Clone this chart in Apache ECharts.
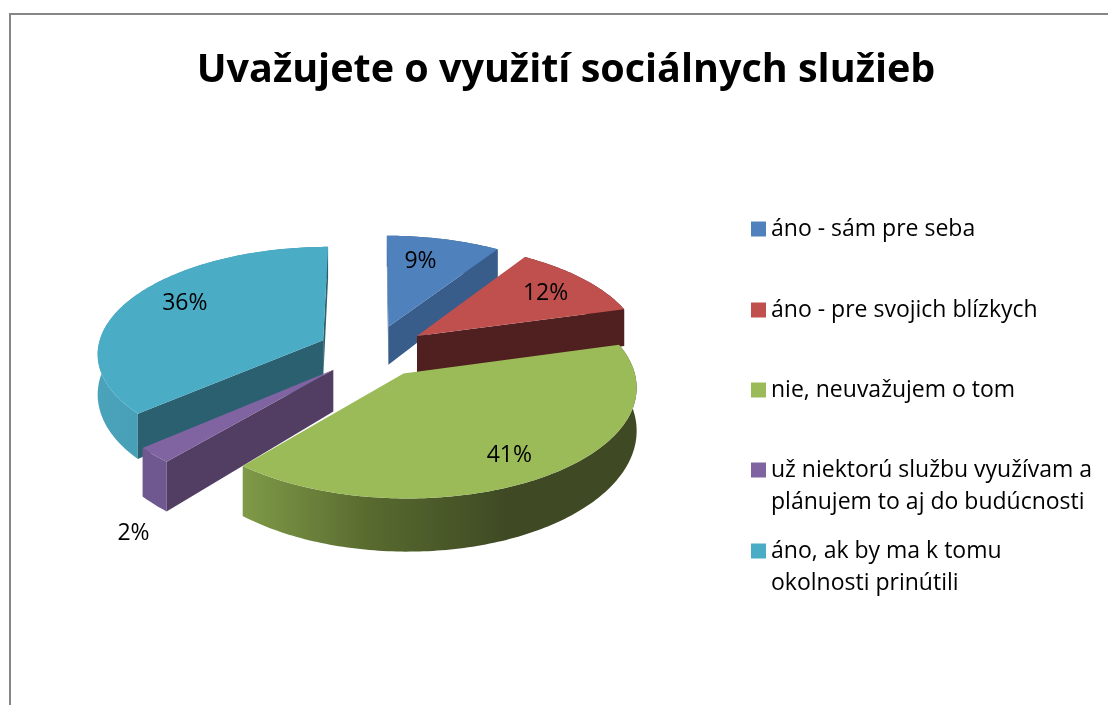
<!DOCTYPE html>
<html>
<head>
<meta charset="utf-8">
<script src="https://cdn.jsdelivr.net/npm/echarts@6/dist/echarts.min.js"></script>
<style>
  html, body { margin: 0; padding: 0; background: #fff; }
  #chart { width: 1108px; height: 705px; }
</style>
</head>
<body>
<div id="chart"></div>
<script>
  var titleText = 'Uvažujete o využití sociálnych služieb';
  var categories = [
    'áno - sám pre seba',
    'áno - pre svojich blízkych',
    'nie, neuvažujem o tom',
    'už niektorú službu využívam a\nplánujem to aj do budúcnosti',
    'áno, ak by ma k tomu\nokolnosti prinútili'
  ];
  // the labels show them rounded
  var values = [9.2, 11.5, 40.5, 2.4, 36.4];

  var topColors = ['#4f81bd', '#c0504d', '#9bbb59', '#8064a2', '#4bacc6'];
  var cutColors = ['#385d8a', '#4f201f', '#3f4a24', '#523e63', '#2b6070'];
  var wallStops = [
    ['#385d8a', '#385d8a'],
    ['#4f201f', '#4f201f'],
    ['#7f9a48', '#57692e', '#3f4a24', '#3f4a24'],
    ['#6f578f', '#6f578f'],
    ['#4aa3bb', '#3e8fa5']
  ];
  // where each percent label sits: distance from slice tip, angle clockwise from up
  var labelRadius = [0.72, 0.75, 0.8, 1.46, 0.75];
  var labelAngle = [13, 55, 149, 209.5, 299.5];
  var legendTops = [213, 294, 374, 454, 535];
  // back slices first so the front ones paint over them
  var drawOrder = [0, 1, 4, 3, 2];

  var cx = 373, cy = 351, rx = 226, ry = 106;
  var persp = 0.11, depth = 40, explode = 0.245;
  var fontName = '"Open Sans", sans-serif';

  var total = values.reduce(function (a, b) { return a + b; }, 0);

  function project(X, Y, down) {
    var s = 1 / (1 - persp * Y);
    return [cx + rx * X * s, cy + ry * Y * s + (down ? depth * s * s : 0)];
  }

  function pieItem(params, api) {
    var idx = params.seriesIndex;
    var k = drawOrder[idx];
    var a0 = api.value(1) / total * Math.PI * 2;
    var a1 = (api.value(1) + api.value(0)) / total * Math.PI * 2;
    var mid = (a0 + a1) / 2;
    var ox = explode * Math.sin(mid), oy = -explode * Math.cos(mid);

    function rim(a, down) {
      return project(ox + Math.sin(a), oy - Math.cos(a), down);
    }
    var tip = project(ox, oy, false), tipLow = project(ox, oy, true);

    var arcTop = [], arcLow = [];
    var steps = Math.max(2, Math.ceil((a1 - a0) / Math.PI * 180));
    for (var i = 0; i <= steps; i++) {
      var a = a0 + (a1 - a0) * i / steps;
      arcTop.push(rim(a, false));
      arcLow.push(rim(a, true));
    }

    var minX = Infinity, maxX = -Infinity;
    arcLow.forEach(function (p) {
      minX = Math.min(minX, p[0]);
      maxX = Math.max(maxX, p[0]);
    });
    var stops = wallStops[k].map(function (c, j, arr) {
      return { offset: j / (arr.length - 1), color: c };
    });

    var children = [];

    function face(p, fill) {
      children.push({ type: 'polygon', shape: { points: p }, style: { fill: fill } });
    }
    function cutFace(rimTop, rimLow, sign) {
      // only the faces turned towards the viewer
      var cross = (rimTop[0] - tip[0]) * (rimLow[1] - tip[1]) - (rimTop[1] - tip[1]) * (rimLow[0] - tip[0]);
      if (cross * sign > 0) face([tip, rimTop, rimLow, tipLow], cutColors[k]);
    }

    face(arcTop.concat(arcLow.slice().reverse()), {
      type: 'linear', x: minX, y: 0, x2: maxX, y2: 0, global: true, colorStops: stops
    });
    cutFace(arcTop[0], arcLow[0], -1);
    cutFace(arcTop[steps], arcLow[steps], 1);
    face([tip].concat(arcTop), topColors[k]);

    var la = labelAngle[k] / 180 * Math.PI;
    var lp = project(ox + labelRadius[k] * Math.sin(la), oy - labelRadius[k] * Math.cos(la), false);
    children.push({
      type: 'text',
      style: {
        text: Math.round(api.value(0)) + '%', x: lp[0], y: lp[1],
        fill: '#000', font: '23px ' + fontName, align: 'center', verticalAlign: 'middle'
      }
    });

    return { type: 'group', children: children };
  }

  var starts = [];
  values.reduce(function (sum, v, i) { starts[i] = sum; return sum + v; }, 0);

  var chart = echarts.init(document.getElementById('chart'));
  chart.setOption({
    animation: false,
    title: {
      text: titleText, left: 561, top: 46, textAlign: 'center',
      textStyle: { color: '#000', fontFamily: fontName, fontWeight: 'bold', fontSize: 39.5 }
    },
    graphic: [{
      type: 'rect', silent: true,
      shape: { x: 10, y: 14, width: 1200, height: 800 },
      style: { fill: 'none', stroke: '#868686', lineWidth: 2 }
    }],
    legend: categories.map(function (name, i) {
      var two = name.indexOf('\n') >= 0;
      return {
        data: [name], left: 751, top: legendTops[i], orient: 'vertical', padding: 0,
        selectedMode: false, itemWidth: 15, itemHeight: two ? 47 : 15,
        icon: two ? 'path://M0 0H15V15H0Z M0 47L0 47' : 'rect',
        textStyle: { color: '#000', fontFamily: fontName, fontSize: 23, lineHeight: 32 }
      };
    }),
    series: drawOrder.map(function (k) {
      return {
        type: 'custom', name: categories[k], coordinateSystem: 'none',
        itemStyle: { color: topColors[k] },
        renderItem: pieItem,
        data: [[values[k], starts[k]]]
      };
    })
  });
</script>
</body>
</html>
